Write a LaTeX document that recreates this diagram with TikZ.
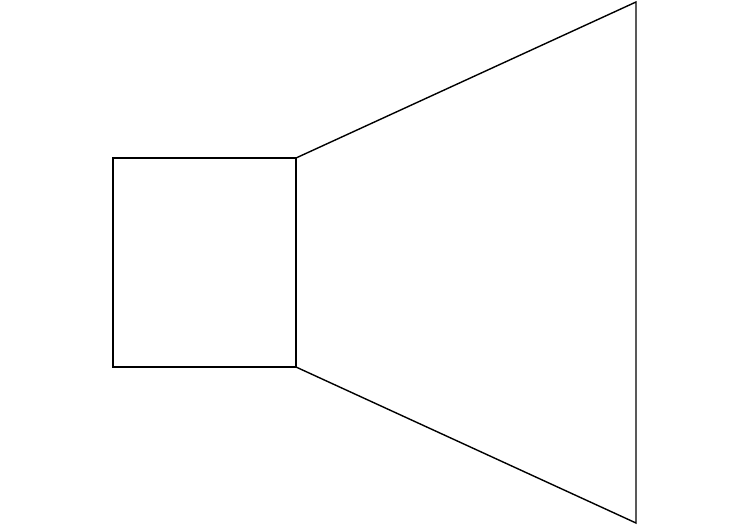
\documentclass[tikz,border=0pt]{standalone}
\begin{document}
\begin{tikzpicture}[x=0.02cm,y=-0.02cm]
            \tikzstyle{every path}=[line width=0.8pt]
            \useasboundingbox (0,0) rectangle (750,527);

            % box
            \coordinate (boxtl) at (113,158);
            \coordinate (boxtr) at (296,158);
            \coordinate (boxbr) at (296,367);
            \coordinate (boxbl) at (113,367);

            % cone
            \coordinate (conetop) at (636,2);
            \coordinate (conebot) at (636,523);

            \draw (boxtl) -- (boxtr) -- (boxbr) -- (boxbl) -- cycle;
            \draw (boxtr) -- (conetop) -- (conebot) -- (boxbr);

          \end{tikzpicture}
\end{document}
